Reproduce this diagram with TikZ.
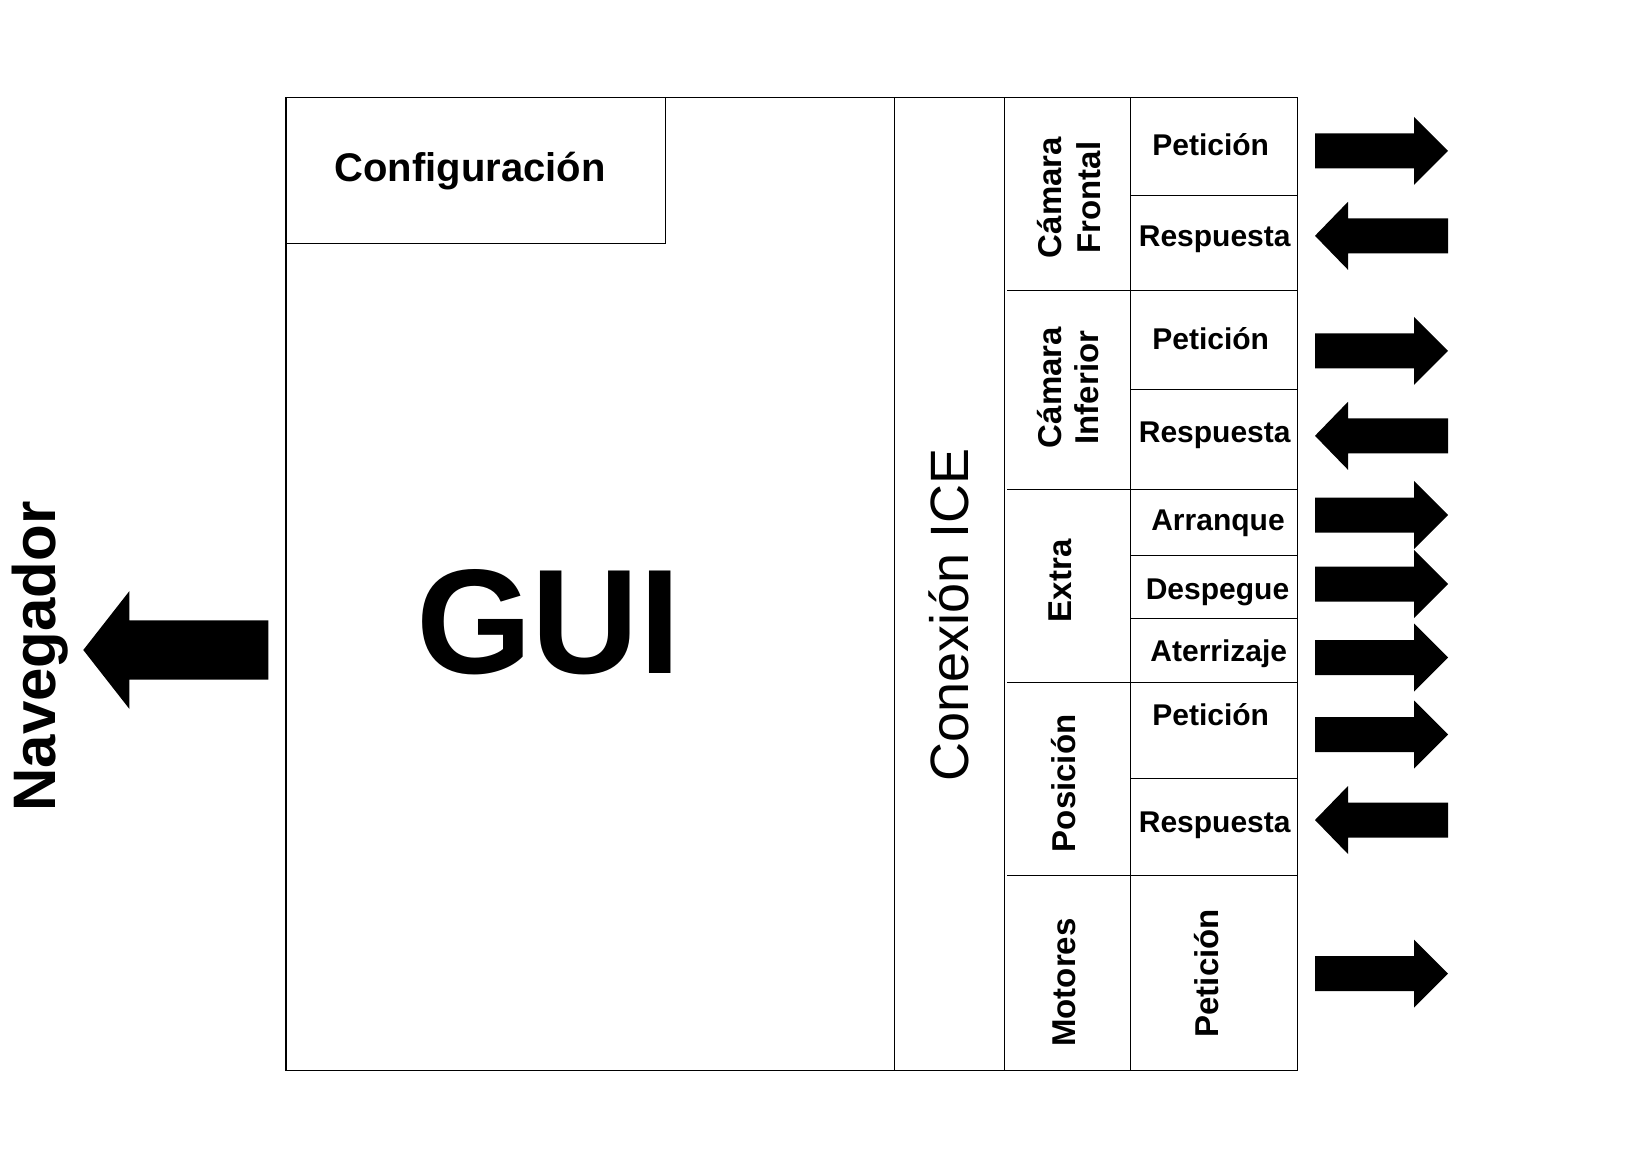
\documentclass[tikz,border=0pt]{standalone}
\usepackage{fontspec}
\setmainfont{Liberation Sans}
\tikzset{
    pics/thickarrow/.style n args = {4}{
        code = {
        \fill (0,-#3) -- (#1-#2,-#3) -- (#1-#2,-#4) -- (#1,0) -- (#1-#2,#4) -- (#1-#2,#3) -- (0,#3) -- cycle;
        }
    },
    item/.style={anchor=base, font=\bfseries\fontsize{30}{34}\selectfont},
    group/.style={anchor=base, rotate=90, font=\bfseries\fontsize{33}{38}\selectfont}
}

\begin{document}
\begin{tikzpicture}[x=1pt, y=-1pt, line width=1.4pt]
    \useasboundingbox (0,0) rectangle (1634,1153);

    % frame and columns
    \draw [draw] (286,97.3) rectangle (1297.3,1070.3);
    \draw [draw] (286,97.3) rectangle (665.7,243.3);
    \draw [draw] (894.5,97.3) -- (894.5,1070.3);
    \draw [draw] (1004.3,97.3) -- (1004.3,1070.3);
    \draw [draw] (1130.7,97.3) -- (1130.7,1070.3);

    % group rows
    \draw [draw] (1007,290.3) -- (1297.3,290.3);
    \draw [draw] (1007,489.3) -- (1297.3,489.3);
    \draw [draw] (1007,682.3) -- (1297.3,682.3);
    \draw [draw] (1007,875.5) -- (1297.3,875.5);

    % message rows
    \draw [draw] (1130.7,195.7) -- (1297.3,195.7);
    \draw [draw] (1130.7,389.3) -- (1297.3,389.3);
    \draw [draw] (1130.7,555.7) -- (1297.3,555.7);
    \draw [draw] (1130.7,618.3) -- (1297.3,618.3);
    \draw [draw] (1130.7,778.3) -- (1297.3,778.3);

    \node[anchor=base, font=\bfseries\fontsize{40}{44}\selectfont] (config) at (470,182) {Configuración};
    \node[anchor=base, font=\bfseries\fontsize{149}{160}\selectfont] (gui) at (548.5,673.3) {GUI};
    \node[anchor=base, rotate=90, font=\fontsize{54}{60}\selectfont] (ice) at (968.3,614.8) {Conexión ICE};
    \node[anchor=base, rotate=90, font=\bfseries\fontsize{60}{66}\selectfont] (nav) at (55,656.5) {Navegador};

    \node[group] (camfa) at (1061.7,197.5) {Cámara};
    \node[group] (camfb) at (1100,197.5) {Frontal};
    \node[group] (camia) at (1061.7,387.5) {Cámara};
    \node[group] (camib) at (1098.3,387.5) {Inferior};
    \node[group] (extra) at (1071.7,580.8) {Extra};
    \node[group] (pos) at (1075,783.3) {Posición};
    \node[group] (mot) at (1075,982.5) {Motores};

    \node[item] (petf) at (1210.7,156) {Petición};
    \node[item] (resf) at (1214.7,246.7) {Respuesta};
    \node[item] (peti) at (1210.7,349.3) {Petición};
    \node[item] (resi) at (1214.7,442.7) {Respuesta};
    \node[item] (arr) at (1218,530) {Arranque};
    \node[item] (desp) at (1217.5,599.3) {Despegue};
    \node[item] (ater) at (1218.8,661.7) {Aterrizaje};
    \node[item] (petp) at (1210.7,725) {Petición};
    \node[item] (resp) at (1214.7,832.7) {Respuesta};
    \node[group] (petm) at (1218.3,973.3) {Petición};

    % arrows
    \path pic[rotate=180] at (268.3,650) {thickarrow={185}{46}{29.7}{58.8}};

    \path pic at (1315,150.8) {thickarrow={133}{34}{17.5}{34}};
    \path pic[rotate=180] at (1448,235.8) {thickarrow={133}{33}{17.5}{34}};
    \path pic at (1315,350.8) {thickarrow={133}{34}{17.5}{34}};
    \path pic[rotate=180] at (1448,435.8) {thickarrow={133}{33}{17.5}{34}};
    \path pic at (1315,515) {thickarrow={133}{34}{17.5}{34}};
    \path pic at (1315,584) {thickarrow={133}{34}{17.5}{34}};
    \path pic at (1315,657.5) {thickarrow={133}{34}{17.5}{34}};
    \path pic at (1315,734.5) {thickarrow={133}{34}{17.5}{34}};
    \path pic[rotate=180] at (1448,820) {thickarrow={133}{33}{17.5}{34}};
    \path pic at (1315,973.7) {thickarrow={133}{34}{17.5}{34}};

\end{tikzpicture}
\end{document}
